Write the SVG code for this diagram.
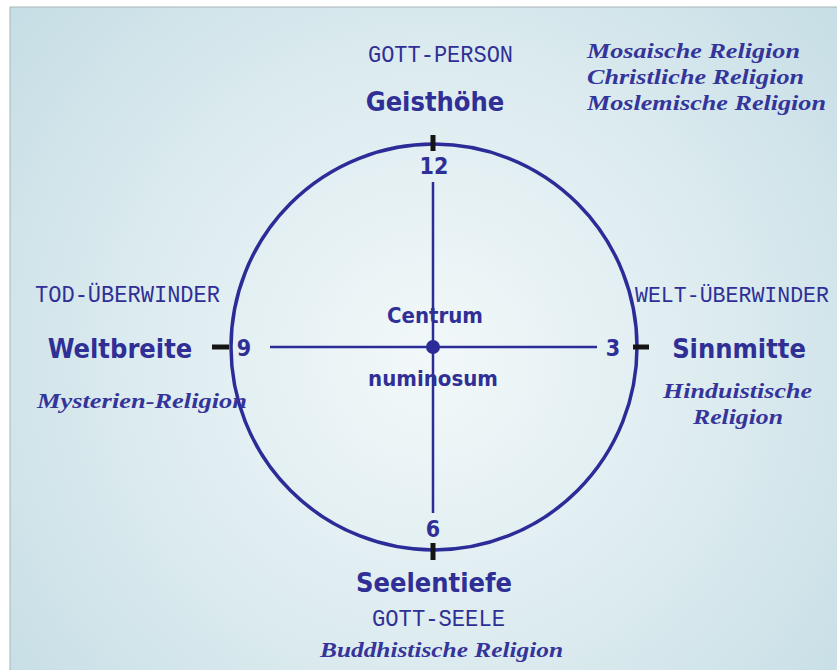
<svg xmlns="http://www.w3.org/2000/svg" width="837" height="670" viewBox="0 0 837 670">
  <defs>
    <radialGradient id="bg" cx="430" cy="360" r="540" gradientUnits="userSpaceOnUse">
      <stop offset="0" stop-color="#f2f8f9"/>
      <stop offset="0.55" stop-color="#dcebef"/>
      <stop offset="1" stop-color="#c6dee5"/>
    </radialGradient>
  </defs>
  <style>
    .sans { font-family: "DejaVu Sans Condensed", "DejaVu Sans", "Liberation Sans", sans-serif; font-weight: bold; fill: #2f2f96; text-anchor: middle; }
    .mono { font-family: "Liberation Mono", "DejaVu Sans Mono", monospace; fill: #2f2f96; font-size: 24px; }
    .ital { font-family: "Liberation Serif", "DejaVu Serif", serif; font-style: italic; font-weight: bold; fill: #34349a; font-size: 21px; }
    .line { stroke: #2c2c98; fill: none; }
    .tick { stroke: #141414; stroke-width: 5; }
  </style>

  <!-- page and panel -->
  <rect x="0" y="0" width="837" height="670" fill="#ffffff"/>
  <rect x="10" y="7" width="827" height="663" fill="url(#bg)"/>
  <line x1="10" y1="7" x2="837" y2="7" stroke="#a8b4b8" stroke-width="1"/>
  <line x1="10" y1="7" x2="10" y2="670" stroke="#a8b4b8" stroke-width="1"/>

  <!-- connectors: circle, axes, ticks -->
  <g id="connectors">
    <circle class="line" cx="434" cy="347" r="203" stroke-width="3.5"/>
    <line class="line" x1="270" y1="347" x2="597" y2="347" stroke-width="2.5"/>
    <line class="line" x1="433" y1="182" x2="433" y2="513" stroke-width="2.5"/>
    <circle cx="433" cy="347" r="7" fill="#2c2c98"/>
    <line class="tick" x1="433" y1="135" x2="433" y2="151"/>
    <line class="tick" x1="433" y1="543" x2="433" y2="560"/>
    <line class="tick" x1="212" y1="347" x2="229" y2="347"/>
    <line class="tick" x1="633" y1="347" x2="649" y2="347"/>
  </g>

  <!-- clock numbers -->
  <g id="numbers">
    <text class="sans" x="434" y="174" font-size="23">12</text>
    <text class="sans" x="244" y="356" font-size="23">9</text>
    <text class="sans" x="613" y="356" font-size="23">3</text>
    <text class="sans" x="433" y="537" font-size="23">6</text>
  </g>

  <g id="centrum">
    <text class="sans" x="435" y="323" font-size="22">Centrum</text>
    <text class="sans" x="433" y="386" font-size="22">numinosum</text>
  </g>

  <g id="top">
    <text class="mono" x="368" y="62" textLength="145" lengthAdjust="spacingAndGlyphs">GOTT-PERSON</text>
    <text class="sans" x="435" y="111" font-size="27">Geisthöhe</text>
    <text class="ital" x="587" y="58" textLength="213" lengthAdjust="spacingAndGlyphs">Mosaische Religion</text>
    <text class="ital" x="587" y="84" textLength="217" lengthAdjust="spacingAndGlyphs">Christliche Religion</text>
    <text class="ital" x="587" y="110" textLength="239" lengthAdjust="spacingAndGlyphs">Moslemische Religion</text>
  </g>

  <g id="left">
    <text class="mono" x="35" y="302" textLength="185" lengthAdjust="spacingAndGlyphs">TOD-ÜBERWINDER</text>
    <text class="sans" x="120" y="358" font-size="27">Weltbreite</text>
    <text class="ital" x="37" y="408" textLength="210" lengthAdjust="spacingAndGlyphs">Mysterien-Religion</text>
  </g>

  <g id="right">
    <text class="mono" x="635" y="302" font-size="21.6px" style="font-size:21.6px" textLength="194" lengthAdjust="spacingAndGlyphs">WELT-ÜBERWINDER</text>
    <text class="sans" x="739" y="358" font-size="27">Sinnmitte</text>
    <text class="ital" x="663" y="398" textLength="149" lengthAdjust="spacingAndGlyphs">Hinduistische</text>
    <text class="ital" x="693" y="424" textLength="90" lengthAdjust="spacingAndGlyphs">Religion</text>
  </g>

  <g id="bottom">
    <text class="sans" x="434" y="592" font-size="27">Seelentiefe</text>
    <text class="mono" x="372" y="626" textLength="133" lengthAdjust="spacingAndGlyphs">GOTT-SEELE</text>
    <text class="ital" x="320" y="657" textLength="243" lengthAdjust="spacingAndGlyphs">Buddhistische Religion</text>
  </g>
</svg>
